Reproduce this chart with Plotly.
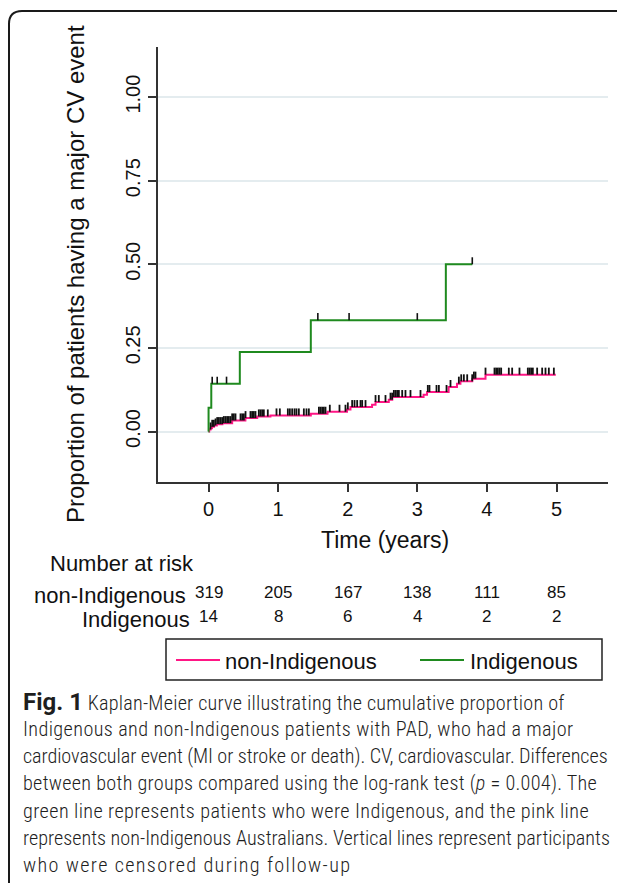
import bisect
import plotly.graph_objects as go

# ---------------- data ----------------
ind_time = [0, 0.001, 0.04, 0.45, 1.47, 3.41, 3.79]
ind_cum = [0, 0.071, 0.143, 0.238, 0.333, 0.500, 0.500]
ind_censor = [0.053, 0.125, 0.259, 1.571, 2.02, 3.0, 3.79]

nonind_time = [0, 0.01, 0.03, 0.05, 0.08, 0.12, 0.20, 0.34, 0.53, 0.70, 0.89, 1.47, 1.71, 1.99,
               2.04, 2.35, 2.40, 2.59, 2.64, 3.09, 3.14, 3.45, 3.57, 3.62, 3.79, 3.98, 4.99]
nonind_cum = [0, 0.006, 0.010, 0.014, 0.018, 0.022, 0.025, 0.033, 0.040, 0.045, 0.048, 0.053, 0.059, 0.066,
              0.073, 0.080, 0.088, 0.095, 0.103, 0.110, 0.118, 0.133, 0.143, 0.150, 0.158, 0.170, 0.170]
nonind_censor = [0.029, 0.053, 0.077, 0.101, 0.125, 0.149, 0.172, 0.196, 0.220, 0.244, 0.268, 0.292,
                 0.316, 0.340, 0.364, 0.388, 0.460, 0.484, 0.508, 0.532, 0.603, 0.627, 0.651, 0.675,
                 0.723, 0.747, 0.771, 0.795, 0.852, 0.977, 1.025, 1.140, 1.169, 1.202, 1.236, 1.264,
                 1.298, 1.370, 1.408, 1.442, 1.586, 1.609, 1.633, 1.657, 1.681, 1.743, 1.882, 1.968,
                 2.002, 2.064, 2.098, 2.136, 2.184, 2.208, 2.256, 2.400, 2.447, 2.543, 2.615, 2.639,
                 2.663, 2.687, 2.711, 2.735, 2.783, 2.830, 2.902, 3.046, 3.151, 3.175, 3.276, 3.310,
                 3.420, 3.477, 3.597, 3.631, 3.669, 3.717, 3.789, 3.813, 3.836, 3.980, 4.109, 4.133,
                 4.157, 4.181, 4.205, 4.315, 4.363, 4.468, 4.588, 4.612, 4.636, 4.660, 4.722, 4.794,
                 4.842, 4.890, 4.962]

risk_times = [0, 1, 2, 3, 4, 5]
risk_nonind = [319, 205, 167, 138, 111, 85]
risk_ind = [14, 8, 6, 4, 2, 2]

x_ticks = [0, 1, 2, 3, 4, 5]
y_ticks = [0, 0.25, 0.5, 0.75, 1.0]
y_ticktext = ["0.00", "0.25", "0.50", "0.75", "1.00"]

FIG_LABEL = "Fig. 1"
caption_lines = [
    " Kaplan-Meier curve illustrating the cumulative proportion of",
    "Indigenous and non-Indigenous patients with PAD, who had a major",
    "cardiovascular event (MI or stroke or death). CV, cardiovascular. Differences",
    "between both groups compared using the log-rank test (<i>p</i> = 0.004). The",
    "green line represents patients who were Indigenous, and the pink line",
    "represents non-Indigenous Australians. Vertical lines represent participants",
    "who were censored during follow-up",
]
caption_letter_spacing = [0.22, 0.4, -0.07, 0.29, 0.41, 0, 1.35]

PINK = "#ff1685"
GREEN = "#1f8a1f"
CHART_FONT = "Liberation Sans"
CAP_FONT = "Roboto Condensed"
TXT = "#111111"

# ---------------- geometry (reference window pixels; page body has an 8px margin) ----------------
OFF = 8
WIDTH, HEIGHT = 625 - OFF, 883 - OFF
PLOT_L, PLOT_R, PLOT_T, PLOT_B = 158, 608, 47, 482          # plot area in window pixels
L, T = PLOT_L - OFF, PLOT_T - OFF
R, B = WIDTH - (PLOT_R - OFF), HEIGHT - (PLOT_B - OFF)
PW, PH = PLOT_R - PLOT_L, PLOT_B - PLOT_T


def px(xp):
    return (xp - PLOT_L) / PW


def py(yp):
    return (PLOT_B - yp) / PH


def step_value(times, vals, t):
    i = bisect.bisect_right(times, t) - 1
    return vals[max(i, 0)]


def censor_segments(times, vals, cens, h=0.021):
    xs, ys = [], []
    for c in cens:
        v = step_value(times, vals, c)
        xs += [c, c, None]
        ys += [v, v + h, None]
    return xs, ys


fig = go.Figure()

fig.add_trace(go.Scatter(x=nonind_time, y=nonind_cum, mode="lines", line=dict(color=PINK, width=2, shape="hv"),
                         name="non-Indigenous", showlegend=False, hoverinfo="skip"))
cx, cy = censor_segments(nonind_time, nonind_cum, nonind_censor)
fig.add_trace(go.Scatter(x=cx, y=cy, mode="lines", line=dict(color="#111111", width=1.8),
                         showlegend=False, hoverinfo="skip"))
fig.add_trace(go.Scatter(x=ind_time, y=ind_cum, mode="lines", line=dict(color=GREEN, width=2, shape="hv"),
                         name="Indigenous", showlegend=False, hoverinfo="skip"))
cx, cy = censor_segments(ind_time, ind_cum, ind_censor)
fig.add_trace(go.Scatter(x=cx, y=cy, mode="lines", line=dict(color="#111111", width=1.6),
                         showlegend=False, hoverinfo="skip"))

fig.update_layout(
    width=WIDTH, height=HEIGHT,
    margin=dict(l=L, r=R, t=T, b=B, pad=0),
    paper_bgcolor="white", plot_bgcolor="white",
    showlegend=False,
    font=dict(family=CHART_FONT, color=TXT),
)
fig.update_xaxes(
    range=[(PLOT_L - 208.5) / 69.6, (PLOT_R - 208.5) / 69.6],
    tickvals=x_ticks, ticktext=[str(v) for v in x_ticks],
    showgrid=False, zeroline=False,
    showline=True, linecolor="#333333", linewidth=1.5,
    ticks="outside", ticklen=8, tickwidth=1.5, tickcolor="#333333",
    tickfont=dict(size=20, family=CHART_FONT, color=TXT),
)
fig.update_yaxes(
    range=[(431.5 - PLOT_B) / 334.4, (431.5 - PLOT_T) / 334.4],
    tickvals=y_ticks, ticktext=y_ticktext, tickangle=-90,
    showgrid=True, gridcolor="#e4ecef", gridwidth=1.5, zeroline=False,
    showline=True, linecolor="#333333", linewidth=1.5,
    ticks="outside", ticklen=8, tickwidth=1.5, tickcolor="#333333",
    tickfont=dict(size=20, family=CHART_FONT, color=TXT),
)

ann = []
# axis titles
ann.append(dict(text="Proportion of patients having a major CV event", xref="paper", yref="paper",
                x=px(75), y=py(274), textangle=-90, showarrow=False, xanchor="center", yanchor="middle",
                font=dict(size=24, family=CHART_FONT, color=TXT)))
ann.append(dict(text="Time (years)", xref="paper", yref="paper", x=px(385), y=py(540), showarrow=False,
                xanchor="center", yanchor="middle", font=dict(size=23, family=CHART_FONT, color=TXT)))
# risk table
ann.append(dict(text="Number at risk", xref="paper", yref="paper", x=px(48), y=py(563), showarrow=False,
                xanchor="left", yanchor="middle", font=dict(size=22, family=CHART_FONT, color=TXT)))
ann.append(dict(text="non-Indigenous", xref="paper", yref="paper", x=px(188), y=py(595), showarrow=False,
                xanchor="right", yanchor="middle", font=dict(size=22, family=CHART_FONT, color=TXT)))
ann.append(dict(text="Indigenous", xref="paper", yref="paper", x=px(192), y=py(619), showarrow=False,
                xanchor="right", yanchor="middle", font=dict(size=22, family=CHART_FONT, color=TXT)))
for t, a, b in zip(risk_times, risk_nonind, risk_ind):
    ann.append(dict(text=str(a), xref="x", yref="paper", x=t, y=py(592), showarrow=False,
                    xanchor="center", yanchor="middle", font=dict(size=17, family=CHART_FONT, color=TXT)))
    ann.append(dict(text=str(b), xref="x", yref="paper", x=t, y=py(616), showarrow=False,
                    xanchor="center", yanchor="middle", font=dict(size=17, family=CHART_FONT, color=TXT)))
# legend text
ann.append(dict(text="non-Indigenous", xref="paper", yref="paper", x=px(223), y=py(661), showarrow=False,
                xanchor="left", yanchor="middle", font=dict(size=22, family=CHART_FONT, color=TXT)))
ann.append(dict(text="Indigenous", xref="paper", yref="paper", x=px(468), y=py(661), showarrow=False,
                xanchor="left", yanchor="middle", font=dict(size=22, family=CHART_FONT, color=TXT)))
# caption
cap_y = [702, 729, 756, 783, 811, 838, 865]
for i, (line, yy) in enumerate(zip(caption_lines, cap_y)):
    ls = caption_letter_spacing[i]
    text = f"<span style=\"letter-spacing:{ls}px\">{line}</span>"
    if i == 0:
        text = ("<b><span style=\"font-family:Roboto;font-size:24px\">" + FIG_LABEL + "</span></b>" + text)
    ann.append(dict(text=text, xref="paper", yref="paper", x=px(21), y=py(yy), showarrow=False,
                    xanchor="left", yanchor="middle",
                    font=dict(size=20.2, family=CAP_FONT, color="#1e1e1e", weight=300)))
fig.update_layout(annotations=ann)

shapes = []
# legend box and samples
shapes.append(dict(type="rect", xref="paper", yref="paper", x0=px(166), x1=px(602), y0=py(639), y1=py(680),
                   line=dict(color="#222222", width=1.5), fillcolor="rgba(0,0,0,0)"))
shapes.append(dict(type="line", xref="paper", yref="paper", x0=px(176), x1=px(220), y0=py(660), y1=py(660),
                   line=dict(color=PINK, width=2)))
shapes.append(dict(type="line", xref="paper", yref="paper", x0=px(420), x1=px(464), y0=py(660), y1=py(660),
                   line=dict(color=GREEN, width=2)))
# outer frame with rounded top-left corner
r = 13
fx, ftop = 9, 11
path = (f"M {px(fx)},{py(900)} L {px(fx)},{py(ftop + r)} "
        f"Q {px(fx)},{py(ftop)} {px(fx + r)},{py(ftop)} L {px(640)},{py(ftop)}")
shapes.append(dict(type="path", xref="paper", yref="paper", path=path, line=dict(color="#1a1a1a", width=2)))
fig.update_layout(shapes=shapes)

fig.write_html("out.html")
